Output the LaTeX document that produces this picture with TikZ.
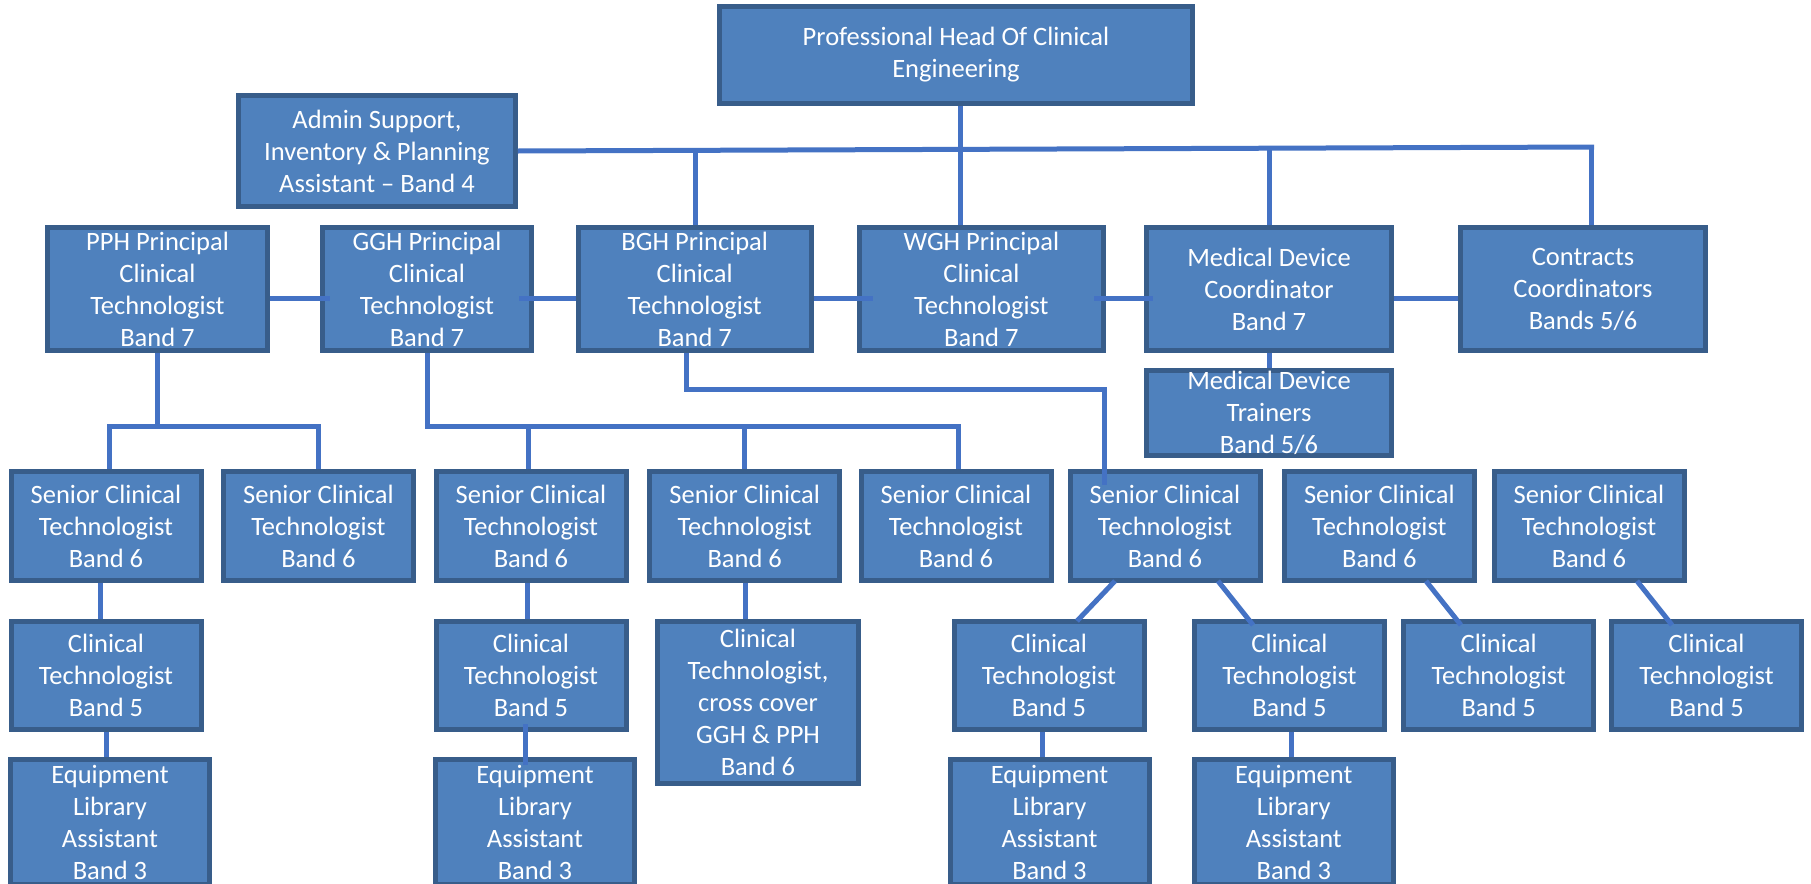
\documentclass[tikz,border=0pt]{standalone}
\usepackage{fontspec}
\setmainfont{Carlito}
\definecolor{boxc}{HTML}{4F81BD}
\definecolor{bordc}{HTML}{385D8A}
\definecolor{linec}{HTML}{4472C4}
\newcommand\orgfont{\fontsize{13.25pt}{16pt}\selectfont}
\begin{document}
\begin{tikzpicture}[x=0.5pt,y=-0.5pt,
  box/.style={draw=bordc, fill=boxc, line width=2.5pt, text=white, align=center,
    inner sep=0pt, font=\orgfont},
  sbox/.style={box, minimum width=95pt, minimum height=54.5pt},
  cbox/.style={box, minimum width=95pt, minimum height=54pt},
  ebox/.style={box, minimum width=99.5pt, minimum height=62.5pt},
  conn/.style={draw=linec, line width=2.5pt}]
\fill[white] (0,0) rectangle (1811,884);
\useasboundingbox (0,0) rectangle (1811,884);

% top
\node[box, minimum width=236.5pt, minimum height=48.5pt] (head) at (956,55) {Professional Head Of Clinical\\Engineering};
\node[box, minimum width=138.25pt, minimum height=55.8pt] (admin) at (377,151) {Admin Support,\\Inventory \& Planning\\Assistant – Band 4};

% row 2
\node[box, minimum width=110pt, minimum height=61.5pt] (pph) at (157.5,289) {PPH Principal\\Clinical\\Technologist\\Band 7};
\node[box, minimum width=104.5pt, minimum height=61.5pt] (ggh) at (427,289) {GGH Principal\\Clinical\\Technologist\\Band 7};
\node[box, minimum width=116.25pt, minimum height=61.5pt] (bgh) at (694.75,289) {BGH Principal\\Clinical\\Technologist\\Band 7};
\node[box, minimum width=122.4pt, minimum height=61.5pt] (wgh) at (981.4,289) {WGH Principal\\Clinical\\Technologist\\Band 7};
\node[box, minimum width=122.5pt, minimum height=61.5pt] (mdc) at (1269,289) {Medical Device\\Coordinator\\Band 7};
\node[box, minimum width=122.5pt, minimum height=61.5pt] (contr) at (1583,289) {Contracts\\Coordinators\\Bands 5/6};
\node[box, minimum width=122.5pt, minimum height=42.5pt] (train) at (1269,413) {Medical Device\\Trainers\\Band 5/6};

% row 3
\node[sbox] (s1) at (106,526) {Senior Clinical\\Technologist\\Band 6};
\node[sbox] (s2) at (318.5,526) {Senior Clinical\\Technologist\\Band 6};
\node[sbox] (s3) at (531,526) {Senior Clinical\\Technologist\\Band 6};
\node[sbox] (s4) at (744.75,526) {Senior Clinical\\Technologist\\Band 6};
\node[sbox] (s5) at (956,526) {Senior Clinical\\Technologist\\Band 6};
\node[sbox] (s6) at (1165,526) {Senior Clinical\\Technologist\\Band 6};
\node[sbox] (s7) at (1379.35,526) {Senior Clinical\\Technologist\\Band 6};
\node[sbox] (s8) at (1589,526) {Senior Clinical\\Technologist\\Band 6};

% row 4
\node[cbox] (c1) at (106,675.5) {Clinical\\Technologist\\Band 5};
\node[cbox] (c3) at (531,675.5) {Clinical\\Technologist\\Band 5};
\node[box, minimum width=100.5pt, minimum height=81pt] (cross) at (758,702.5) {Clinical\\Technologist,\\cross cover\\GGH \& PPH\\Band 6};
\node[cbox] (c6a) at (1049,675.5) {Clinical\\Technologist\\Band 5};
\node[cbox] (c6b) at (1289.5,675.5) {Clinical\\Technologist\\Band 5};
\node[cbox] (c7) at (1498.7,675.5) {Clinical\\Technologist\\Band 5};
\node[cbox] (c8) at (1706.5,675.5) {Clinical\\Technologist\\Band 5};

% row 5
\node[ebox] (e1) at (110,822) {Equipment\\Library\\Assistant\\Band 3};
\node[ebox] (e3) at (535,822) {Equipment\\Library\\Assistant\\Band 3};
\node[ebox] (e6a) at (1049.5,822) {Equipment\\Library\\Assistant\\Band 3};
\node[ebox] (e6b) at (1293.8,822) {Equipment\\Library\\Assistant\\Band 3};

% top bus
\coordinate (busR) at (1594,147);
\coordinate (busB) at (695,150);
\coordinate (busM) at (1269.5,148);
\coordinate (busC) at (1591,147);
\coordinate (headx) at (960,150);
\draw[conn] (admin.east) -- (busR);
\draw[conn] (head.south -| headx) -- (wgh.north -| headx);
\draw[conn] (busB) -- (bgh.north -| busB);
\draw[conn] (busM) -- (mdc.north -| busM);
\draw[conn] (busC) -- (contr.north -| busC);

% row 2 links
\coordinate (r2) at (0,298);
\draw[conn, shorten >=-5pt] (pph.east |- r2) -- (ggh.west |- r2);
\draw[conn, shorten <=-7.5pt] (ggh.east |- r2) -- (bgh.west |- r2);
\draw[conn, shorten >=-8pt] (bgh.east |- r2) -- (wgh.west |- r2);
\draw[conn, shorten <=-6pt, shorten >=-4.5pt] (wgh.east |- r2) -- (mdc.west |- r2);
\draw[conn] (mdc.east |- r2) -- (contr.west |- r2);
\draw[conn] (mdc.south) -- (train.north);

% PPH branch
\coordinate (b1) at (157,426);
\draw[conn] (pph.south -| b1) -- (b1);
\draw[conn] (s1.north -| 109,0) |- (b1) -| (s2.north);

% GGH branch
\coordinate (b2) at (427,426);
\coordinate (b2e) at (958,426);
\draw[conn] (ggh.south) -- (b2) -- (b2e) -- (s5.north -| b2e);
\draw[conn] (s3.north -| 528,0) -- (b2 -| 528,0);
\draw[conn] (s4.north) -- (s4.north |- b2);

% BGH branch
\coordinate (b3a) at (686,389);
\coordinate (b3b) at (1104.5,389);
\coordinate (b3c) at (1104.5,485);
\draw[conn] (bgh.south -| b3a) -- (b3a) -- (b3b) -- (b3c);

% lower links
\draw[conn] (s1.south -| 100.5,0) -- (c1.north -| 100.5,0);
\draw[conn] (c1.south) -- (e1.north -| c1.south);
\draw[conn] (s3.south -| 527,0) -- (c3.north -| 527,0);
\draw[conn] ([yshift=4pt]c3.south -| 525,0) -- ([yshift=-4pt]e3.north -| 525,0);
\draw[conn] (s4.south -| 745,0) -- (cross.north -| 745,0);
\draw[conn] ([xshift=-25pt,yshift=1pt]s6.south) -- ([xshift=14pt,yshift=-1pt]c6a.north);
\draw[conn] ([xshift=26.5pt,yshift=1pt]s6.south) -- ([xshift=-18.25pt,yshift=-3pt]c6b.north);
\draw[conn] ([xshift=23.3pt,yshift=1pt]s7.south) -- ([xshift=-18.9pt,yshift=-3pt]c7.north);
\draw[conn] ([xshift=24pt,yshift=1pt]s8.south) -- ([xshift=-17.25pt,yshift=-3pt]c8.north);
\draw[conn] (c6a.south -| 1042,0) -- (e6a.north -| 1042,0);
\draw[conn] (c6b.south -| 1291,0) -- (e6b.north -| 1291,0);
\end{tikzpicture}
\end{document}
